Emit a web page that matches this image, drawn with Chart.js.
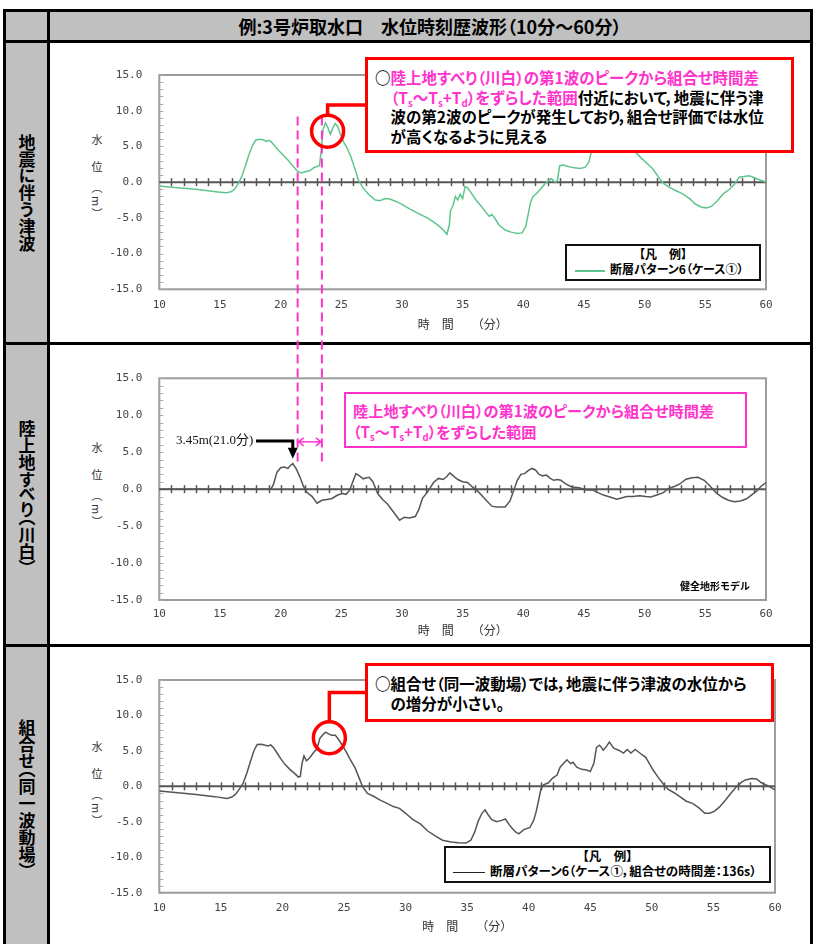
<!DOCTYPE html>
<html lang="ja">
<head>
<meta charset="utf-8">
<title>例:3号炉取水口 水位時刻歴波形</title>
<script src="https://cdn.jsdelivr.net/npm/chart.js@4.4.1/dist/chart.umd.min.js"></script>
<style>
body { margin: 0; background: #fff; font-family: "Noto Sans CJK JP", sans-serif; }
#page { position: relative; width: 818px; height: 944px; overflow: hidden; background: #fff; }
.hl { position: absolute; left: 3px; width: 810px; height: 3px; background: #000; z-index: 5; }
.vl { position: absolute; top: 9px; width: 3px; height: 935px; background: #000; z-index: 5; }
.gray { position: absolute; background: #c0c0c0; }
.title { position: absolute; left: 50px; top: 12px; width: 760px; height: 28px; line-height: 28px;
  text-align: center; font-weight: 700; font-size: 18px; font-feature-settings: "palt"; }
.rowlab { position: absolute; left: 6px; width: 41px; display: flex; align-items: center; justify-content: center; }
.rowlab span { writing-mode: vertical-rl; font-weight: 700; font-size: 17px; line-height: 20px; font-feature-settings: "vpal"; }
.ytitle { position: absolute; left: 91px; width: 12px; writing-mode: vertical-rl; font-size: 11px; line-height: 12px;
  color: #333; letter-spacing: 2.5px; }
canvas { position: absolute; left: 50px; }
#marks { position: absolute; left: 0; top: 0; z-index: 6; pointer-events: none; }
.box { position: absolute; box-sizing: border-box; background: #fff; font-weight: 700; font-size: 15.5px;
  white-space: nowrap; font-feature-settings: "palt"; z-index: 7; }
.red { border: 3px solid #ff0000; line-height: 19.5px; }
.pinkbox { border: 2px solid #ff33cc; color: #ff33cc; line-height: 21px; }
.mag { color: #ff33cc; }
.ind { padding-left: 1em; }
sub { font-size: 0.62em; vertical-align: -0.3em; line-height: 0; }
.legend { position: absolute; box-sizing: border-box; background: #fff; border: 2px solid #111; font-weight: 700;
  font-size: 12px; font-feature-settings: "palt"; z-index: 7; white-space: nowrap; }
.legend .cap { text-align: center; line-height: 15px; }
.legend .row { line-height: 16px; }
.legend i { display: inline-block; vertical-align: middle; height: 2px; margin-right: 5px; }
.note { position: absolute; font-weight: 700; font-size: 10px; line-height: 13px; z-index: 7; }
#peakLabel { position: absolute; left: 176px; top: 432px; font-family: "Liberation Serif", "Noto Sans CJK JP", serif;
  font-size: 13px; line-height: 16px; color: #111; z-index: 7; white-space: nowrap; }
</style>
</head>
<body>
<div id="page">
  <div class="gray" style="left:6px;top:12px;width:804px;height:28px;"></div>
  <div class="gray" style="left:6px;top:43px;width:41px;height:901px;"></div>
  <div class="title">例:3号炉取水口　水位時刻歴波形（10分～60分）</div>

  <div class="hl" style="top:9px"></div>
  <div class="hl" style="top:40px"></div>
  <div class="hl" style="top:342px"></div>
  <div class="hl" style="top:644px"></div>
  <div class="vl" style="left:3px"></div>
  <div class="vl" style="left:47px"></div>
  <div class="vl" style="left:810px"></div>

  <div class="rowlab" style="top:43px;height:299px"><span>地震に伴う津波</span></div>
  <div class="rowlab" style="top:345px;height:299px"><span>陸上地すべり（川白）</span></div>
  <div class="rowlab" style="top:647px;height:297px"><span>組合せ（同一波動場）</span></div>

  <div class="ytitle" style="top:134px">水　位　（m）</div>
  <div class="ytitle" style="top:442px">水　位　（m）</div>
  <div class="ytitle" style="top:741px">水　位　（m）</div>

  <canvas id="quake" width="758" height="299" style="top:43px"></canvas>
  <canvas id="slide" width="758" height="299" style="top:345px"></canvas>
  <canvas id="combo" width="758" height="297" style="top:647px"></canvas>

  <svg id="marks" width="818" height="944"></svg>

  <div id="boxA" class="box red" style="left:365px;top:57px;width:429px;height:96px;padding:8px 0 0 7px;">
    <div>○<span class="mag">陸上地すべり（川白）の第1波のピークから組合せ時間差</span></div>
    <div class="ind"><span class="mag">（T<sub>s</sub>～T<sub>s</sub>+T<sub>d</sub>）をずらした範囲</span>付近において，地震に伴う津</div>
    <div class="ind">波の第2波のピークが発生しており，組合せ評価では水位</div>
    <div class="ind">が高くなるように見える</div>
  </div>

  <div class="box pinkbox" style="left:344px;top:392px;width:403px;height:56px;padding:6px 0 0 7px;font-size:15.2px;">
    <div>陸上地すべり（川白）の第1波のピークから組合せ時間差</div>
    <div>（T<sub>s</sub>～T<sub>s</sub>+T<sub>d</sub>）をずらした範囲</div>
  </div>

  <div id="boxB" class="box red" style="left:365px;top:663px;width:409px;height:59px;padding:7px 0 0 7px;line-height:20px;">
    <div>○組合せ（同一波動場）では，地震に伴う津波の水位から</div>
    <div class="ind">の増分が小さい。</div>
  </div>

  <div id="peakLabel">3.45m(21.0分)</div>
  <div class="note" style="left:680px;top:579px">健全地形モデル</div>

  <div class="legend" style="left:565px;top:244px;width:196px;height:37px;">
    <div class="cap">【凡　例】</div>
    <div class="row"><i style="width:30px;margin-left:8px;background:#5ec58c"></i>断層パターン6（ケース①）</div>
  </div>
  <div class="legend" style="left:444px;top:846px;width:327px;height:37px;font-size:12.5px;">
    <div class="cap">【凡　例】</div>
    <div class="row"><i style="width:32px;margin-left:7px;height:1.5px;background:#222"></i>断層パターン6（ケース①，組合せの時間差：136s）</div>
  </div>
</div>

<script>
// 地震に伴う津波 (断層パターン6 ケース①)
var quakeTime = [10.0, 11.0, 12.0, 13.0, 14.0, 15.0, 15.5, 15.9, 16.2, 16.5, 16.8, 17.1, 17.4, 17.7, 17.95,
  18.3, 18.6, 18.8, 19.0, 19.2, 19.5, 19.8, 20.2, 20.6, 21.0, 21.4, 21.7, 22.0, 22.4, 22.7, 23.0, 23.2,
  23.35, 23.5, 23.7, 23.9, 24.1, 24.3, 24.5, 24.7, 24.9, 25.2, 25.5, 25.8, 26.1, 26.4, 26.8, 27.3, 27.8,
  28.2, 28.6, 29.0, 29.5, 30.0, 30.7, 31.5, 32.2, 32.8, 33.3, 33.7, 33.9, 34.0, 34.2, 34.4, 34.6, 34.8,
  35.0, 35.2, 35.4, 35.7, 36.1, 36.5, 36.9, 37.2, 37.4, 37.7, 38.0, 38.5, 39.0, 39.5, 39.9, 40.2, 40.4,
  40.6, 40.8, 41.1, 41.4, 41.7, 42.0, 42.3, 42.6, 42.8, 43.0, 43.3, 43.7, 44.2, 44.7, 45.1, 45.4, 45.6,
  45.8, 46.1, 46.5, 46.9, 47.4, 47.9, 48.4, 48.9, 49.3, 49.7, 50.2, 50.7, 51.1, 51.5, 52.0, 52.6, 53.2,
  53.7, 54.2, 54.7, 55.1, 55.5, 56.0, 56.5, 57.0, 57.4, 57.8, 58.2, 58.6, 59.0, 59.5, 60.0];
var quakeLevel = [-0.55, -0.7, -0.85, -1.0, -1.2, -1.4, -1.5, -1.35, -1.0, -0.2, 0.8, 2.3, 3.9, 5.2, 5.9,
  6.0, 5.9, 5.7, 5.85, 5.7, 5.1, 4.5, 3.8, 3.1, 2.3, 1.5, 1.3, 1.45, 1.6, 2.0, 2.2, 2.3,
  4.5, 7.4, 8.3, 7.6, 6.7, 7.6, 8.2, 7.8, 6.8, 5.6, 4.7, 3.5, 2.0, 0.3, -0.8, -1.8, -2.5,
  -2.6, -2.3, -2.35, -2.7, -3.1, -3.8, -4.5, -5.1, -5.8, -6.5, -7.3, -6.0, -4.0, -3.3, -2.0, -2.5, -1.7,
  -2.3, -0.6, -0.8, -1.5, -2.5, -3.3, -4.2, -4.8, -4.5, -5.2, -6.0, -6.7, -7.0, -7.2, -7.1, -6.2, -4.5,
  -2.8, -2.0, -1.6, -1.0, -0.4, 0.1, 0.5, 0.0, 0.2, 2.3, 2.4, 2.2, 2.0, 1.9, 2.1, 2.8, 4.2,
  5.5, 5.8, 6.4, 5.6, 5.3, 5.5, 5.1, 4.7, 4.1, 3.4, 2.6, 1.8, 0.8, -0.1, -0.7, -1.2, -1.7,
  -2.3, -3.1, -3.5, -3.6, -3.4, -2.6, -1.6, -1.0, -0.3, 0.7, 0.8, 0.9, 0.65, 0.3, 0.0];

// 陸上地すべり (川白) 健全地形モデル
var slideTime = [10.0, 12.0, 14.0, 16.0, 18.0, 19.2, 19.4, 19.7, 20.0, 20.3, 20.6, 20.8, 21.0, 21.3, 21.6,
  21.9, 22.2, 22.6, 23.0, 23.4, 23.8, 24.2, 24.7, 25.1, 25.4, 25.7, 25.9, 26.2, 26.5, 26.8, 27.0, 27.3,
  27.6, 28.0, 28.4, 28.8, 29.3, 29.8, 30.2, 30.6, 31.1, 31.4, 31.7, 32.1, 32.6, 33.0, 33.4, 33.7, 33.95,
  34.3, 34.6, 35.0, 35.4, 35.8, 36.2, 36.6, 37.0, 37.4, 37.8, 38.5, 38.9, 39.2, 39.5, 39.8, 40.1, 40.4,
  40.7, 41.0, 41.3, 41.6, 41.9, 42.2, 42.5, 42.8, 43.1, 43.5, 44.0, 44.6, 45.2, 45.7, 46.2, 46.6, 47.2,
  47.7, 48.1, 48.5, 49.0, 49.6, 50.1, 50.5, 51.0, 51.5, 52.0, 52.5, 52.9, 53.4, 53.9, 54.4, 54.9, 55.4,
  55.9, 56.4, 56.9, 57.4, 57.9, 58.4, 58.8, 59.2, 59.6, 60.0];
var slideLevel = [0.0, 0.0, 0.0, 0.0, 0.0, 0.0, 0.6, 2.3, 2.9, 3.0, 2.8, 3.2, 3.45, 2.7, 1.6,
  0.3, -0.5, -1.0, -1.9, -1.5, -1.4, -1.3, -0.8, -0.6, -0.7, -0.1, 0.8, 2.1, 1.8, 1.4, 1.5, 1.6,
  1.0, -0.6, -1.4, -2.0, -3.1, -4.2, -3.8, -3.9, -3.7, -2.7, -1.2, -0.4, 0.9, 1.45, 1.3, 1.7, 2.2,
  1.7, 1.3, 1.0, 0.9, 0.3, -0.2, -0.9, -1.6, -2.3, -2.4, -2.4, -1.6, -0.2, 1.2, 2.0, 2.1, 2.5,
  2.8, 2.6, 2.0, 1.8, 1.9, 1.5, 1.2, 1.3, 1.2, 0.7, 0.3, 0.2, -0.1, -0.1, -0.5, -0.8, -1.1,
  -1.35, -1.2, -1.0, -1.0, -0.9, -1.0, -1.05, -0.8, -0.5, 0.1, 0.4, 0.7, 1.35, 1.55, 1.6, 1.2, 0.4,
  -0.5, -1.1, -1.5, -1.7, -1.6, -1.3, -0.8, -0.3, 0.4, 0.9];

// 組合せ (同一波動場) 組合せの時間差 136s
var comboTime = [10.0, 11.5, 13.0, 14.5, 15.5, 15.9, 16.2, 16.5, 16.8, 17.1, 17.4, 17.7, 17.95, 18.3, 18.6,
  18.85, 19.05, 19.3, 19.6, 19.9, 20.2, 20.6, 21.0, 21.3, 21.45, 21.6, 21.75, 21.95, 22.2, 22.5, 22.8,
  23.05, 23.3, 23.5, 23.75, 24.0, 24.3, 24.6, 24.9, 25.2, 25.5, 25.9, 26.2, 26.5, 26.9, 27.4, 27.9,
  28.5, 29.0, 29.5, 30.0, 30.6, 31.2, 31.8, 32.4, 33.0, 33.7, 34.3, 34.9, 35.3, 35.6, 35.9, 36.2, 36.45,
  36.7, 37.0, 37.4, 37.8, 38.1, 38.5, 38.9, 39.2, 39.6, 40.1, 40.4, 40.6, 40.8, 41.0, 41.2, 41.6, 41.9,
  42.3, 42.55, 42.8, 43.1, 43.4, 43.6, 43.9, 44.3, 44.7, 45.0, 45.3, 45.5, 45.75, 45.9, 46.05, 46.3,
  46.55, 46.9, 47.3, 47.7, 48.0, 48.3, 48.65, 49.1, 49.5, 49.8, 50.1, 50.5, 50.9, 51.3, 51.8, 52.3,
  52.8, 53.3, 53.8, 54.3, 54.7, 55.1, 55.5, 56.0, 56.4, 56.9, 57.3, 57.6, 58.1, 58.5, 58.9, 59.4, 60.0];
var comboLevel = [-0.65, -0.9, -1.15, -1.45, -1.7, -1.5, -1.1, -0.4, 0.4, 1.8, 3.5, 5.1, 5.9, 5.95, 5.8,
  5.7, 5.85, 5.4, 4.6, 3.8, 3.1, 2.4, 1.8, 1.3, 1.4, 3.3, 4.3, 3.6, 4.0, 4.7, 5.3,
  6.8, 7.3, 7.65, 7.4, 7.2, 7.2, 6.5, 5.7, 4.8, 3.8, 2.6, 1.3, 0.0, -1.0, -1.4, -1.9,
  -2.4, -2.85, -3.1, -3.8, -4.7, -5.3, -6.3, -7.0, -7.6, -7.85, -7.95, -8.0, -7.6, -6.5, -4.9, -3.8, -3.3,
  -4.0, -4.7, -5.0, -4.8, -4.6, -5.6, -6.4, -6.7, -6.1, -5.8, -4.8, -3.6, -2.0, -0.3, 0.2, 0.5, 1.1,
  1.6, 2.7, 3.2, 3.75, 3.2, 3.4, 2.7, 2.4, 2.3, 2.1, 3.3, 5.5, 5.8, 5.5, 5.1, 5.6,
  6.25, 5.4, 5.1, 4.7, 5.2, 4.7, 5.2, 4.6, 4.1, 3.2, 2.3, 1.3, 0.4, -0.4, -0.9, -1.5,
  -2.1, -2.4, -3.0, -3.8, -3.8, -3.5, -2.9, -1.9, -1.0, 0.0, 0.6, 0.9, 1.1, 1.05, 0.5, 0.1, -0.5];

var timeRange = [10, 60];
var levelRange = [-15, 15];
var slidePeak = [21.0, 3.45];          // 3.45m(21.0分)
var shiftRange = [21.4, 23.4];         // Ts ～ Ts+Td
var quakeMark = [23.87, 7.14];         // 丸印 (地震に伴う津波)
var comboMark = [23.81, 6.86];         // 丸印 (組合せ)

var tickFont = { family: 'DejaVu Sans Mono', size: 11 };
var axisFont = { family: 'Noto Sans CJK JP', size: 12 };

function toPoints(times, levels) {
  return times.map(function (t, i) { return { x: t, y: levels[i] }; });
}

// plot frame, inner minor ticks and the 0 line with minute ticks
var waveFrame = {
  id: 'waveFrame',
  beforeDatasetsDraw: function (chart) {
    var ctx = chart.ctx, a = chart.chartArea, x = chart.scales.x, y = chart.scales.y;
    ctx.save();
    ctx.strokeStyle = '#9c9c9c';
    ctx.lineWidth = 2;
    ctx.strokeRect(a.left, a.top, a.right - a.left, a.bottom - a.top);
    ctx.strokeStyle = '#a8a8a8';
    ctx.lineWidth = 1;
    for (var v = levelRange[0]; v <= levelRange[1]; v++) {
      var py = Math.round(y.getPixelForValue(v)) + 0.5;
      ctx.beginPath(); ctx.moveTo(a.left, py); ctx.lineTo(a.left + 4, py); ctx.stroke();
    }
    var y0 = y.getPixelForValue(0);
    ctx.strokeStyle = '#555';
    ctx.lineWidth = 2;
    ctx.beginPath(); ctx.moveTo(a.left, y0); ctx.lineTo(a.right, y0); ctx.stroke();
    ctx.lineWidth = 1.5;
    for (var t = timeRange[0] + 1; t < timeRange[1]; t++) {
      var px = Math.round(x.getPixelForValue(t)) + 0.5;
      ctx.beginPath(); ctx.moveTo(px, y0 - 4); ctx.lineTo(px, y0 + 4); ctx.stroke();
    }
    ctx.restore();
  }
};

function waveChart(id, times, levels, color, box) {
  return new Chart(document.getElementById(id), {
    type: 'line',
    data: {
      datasets: [{
        data: toPoints(times, levels),
        borderColor: color,
        borderWidth: 1.5,
        pointRadius: 0,
        tension: 0,
        fill: false
      }]
    },
    options: {
      responsive: false,
      animation: false,
      events: [],
      layout: { padding: { top: box.top, right: box.right, left: 0, bottom: 0 } },
      plugins: { legend: { display: false }, tooltip: { enabled: false } },
      scales: {
        x: {
          type: 'linear', min: timeRange[0], max: timeRange[1],
          afterFit: function (s) { s.height = box.axis; },
          grid: { display: false, drawTicks: false },
          border: { display: false },
          ticks: { stepSize: 5, padding: box.tickPad, color: '#444', font: tickFont, maxRotation: 0 },
          title: { display: true, text: '時　間　　（分）', color: '#333', font: axisFont,
                   padding: { top: 0, bottom: box.titlePad } }
        },
        y: {
          min: levelRange[0], max: levelRange[1],
          afterFit: function (s) { s.width = 109.3; },
          grid: { display: false, drawTicks: false },
          border: { display: false },
          ticks: { stepSize: 5, padding: 17, color: '#444', font: tickFont,
                   callback: function (v) { return v.toFixed(1); } }
        }
      }
    },
    plugins: [waveFrame]
  });
}

var quakeChart = waveChart('quake', quakeTime, quakeLevel, '#5ec58c',
  { top: 32, right: 42, axis: 52.7, tickPad: 9, titlePad: 10.5 });
var slideChart = waveChart('slide', slideTime, slideLevel, '#555',
  { top: 33.3, right: 42, axis: 44, tickPad: 8, titlePad: 6.5 });
var comboChart = waveChart('combo', comboTime, comboLevel, '#555',
  { top: 33, right: 33, axis: 51.3, tickPad: 9, titlePad: 10 });

// annotation overlay, placed through the chart scales
var svg = document.getElementById('marks');
function mark(tag, attrs) {
  var e = document.createElementNS('http://www.w3.org/2000/svg', tag);
  for (var k in attrs) e.setAttribute(k, attrs[k]);
  svg.appendChild(e);
  return e;
}
function at(chart, t, v) {
  var c = chart.canvas;
  return [c.offsetLeft + chart.scales.x.getPixelForValue(t), c.offsetTop + chart.scales.y.getPixelForValue(v)];
}

shiftRange.forEach(function (t) {
  var top = at(quakeChart, t, 9.2), bottom = at(slideChart, t, 3.7);
  mark('line', { x1: top[0], y1: top[1], x2: top[0], y2: bottom[1], stroke: '#ff33cc',
                 'stroke-width': 2, 'stroke-dasharray': '9 5' });
});

var a1 = at(slideChart, shiftRange[0], 6.4), a2 = at(slideChart, shiftRange[1], 6.4);
mark('line', { x1: a1[0] + 1, y1: a1[1], x2: a2[0] - 1, y2: a1[1], stroke: '#ff33cc', 'stroke-width': 1.5 });
mark('polyline', { points: (a1[0] + 6) + ',' + (a1[1] - 4) + ' ' + (a1[0] + 1) + ',' + a1[1] + ' ' + (a1[0] + 6) + ',' + (a1[1] + 4),
                   fill: 'none', stroke: '#ff33cc', 'stroke-width': 1.5 });
mark('polyline', { points: (a2[0] - 6) + ',' + (a2[1] - 4) + ' ' + (a2[0] - 1) + ',' + a2[1] + ' ' + (a2[0] - 6) + ',' + (a2[1] + 4),
                   fill: 'none', stroke: '#ff33cc', 'stroke-width': 1.5 });

var lab = document.getElementById('peakLabel');
var pk = at(slideChart, slidePeak[0], slidePeak[1]);
var lx = lab.offsetLeft + lab.offsetWidth + 3, ly = lab.offsetTop + 9;
mark('polyline', { points: lx + ',' + ly + ' ' + pk[0] + ',' + ly + ' ' + pk[0] + ',' + (pk[1] - 14),
                   fill: 'none', stroke: '#000', 'stroke-width': 3 });
mark('polygon', { points: (pk[0] - 5) + ',' + (pk[1] - 16) + ' ' + (pk[0] + 5) + ',' + (pk[1] - 16) + ' ' + pk[0] + ',' + (pk[1] - 5),
                  fill: '#000' });

[[quakeChart, quakeMark, 'boxA'], [comboChart, comboMark, 'boxB']].forEach(function (m) {
  var c = at(m[0], m[1][0], m[1][1]);
  var b = document.getElementById(m[2]);
  var ey = b.offsetTop + b.offsetHeight / 2;
  mark('polyline', { points: c[0] + ',' + (c[1] - 16) + ' ' + c[0] + ',' + ey + ' ' + (b.offsetLeft + 2) + ',' + ey,
                     fill: 'none', stroke: '#ff0000', 'stroke-width': 3.5 });
  mark('circle', { cx: c[0], cy: c[1], r: 16, fill: 'none', stroke: '#ff0000', 'stroke-width': 3.5 });
});
</script>
</body>
</html>
